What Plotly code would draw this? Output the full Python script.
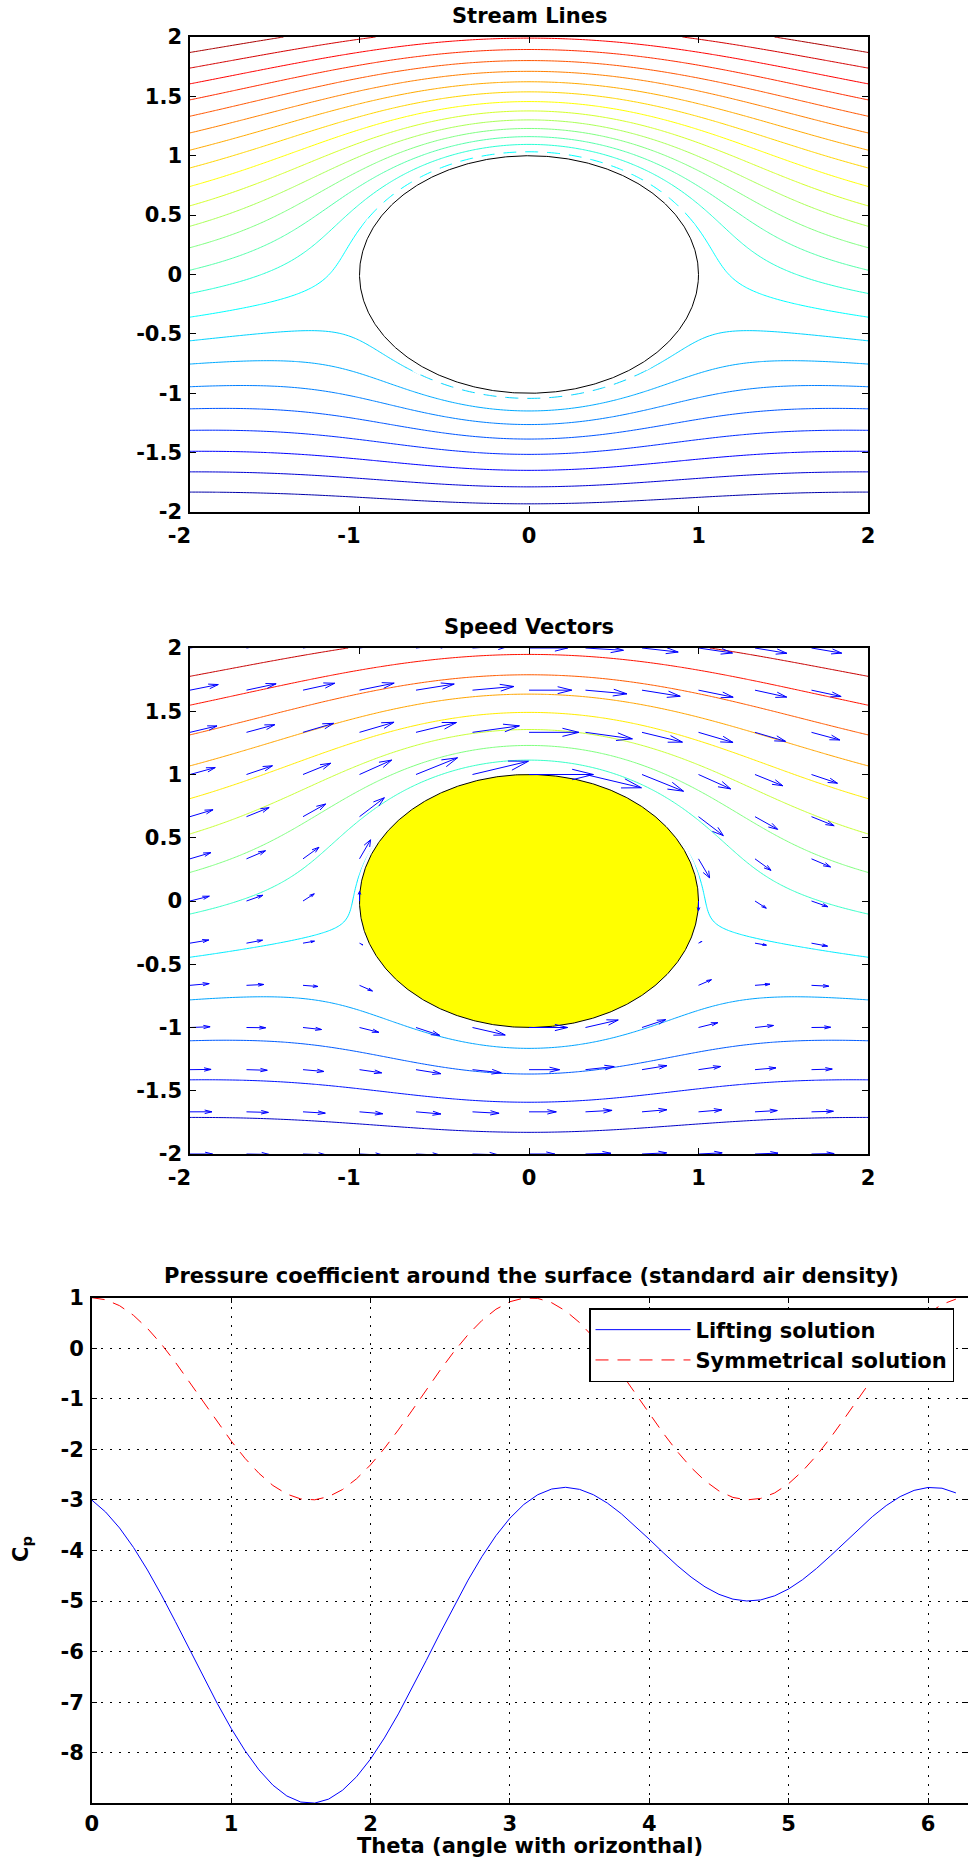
import numpy as np
import plotly.graph_objects as go

# ---------------- data ----------------
theta = [0.0, 0.1, 0.2, 0.3, 0.4, 0.5, 0.6, 0.7, 0.8, 0.9,
         1.0, 1.1, 1.2, 1.3, 1.4, 1.5, 1.6, 1.7, 1.8, 1.9,
         2.0, 2.1, 2.2, 2.3, 2.4, 2.5, 2.6, 2.7, 2.8, 2.9,
         3.0, 3.1, 3.2, 3.3, 3.4, 3.5, 3.6, 3.7, 3.8, 3.9,
         4.0, 4.1, 4.2, 4.3, 4.4, 4.5, 4.6, 4.7, 4.8, 4.9,
         5.0, 5.1, 5.2, 5.3, 5.4, 5.5, 5.6, 5.7, 5.8, 5.9,
         6.0, 6.1, 6.2]

cp_lifting = [-3.000, -3.239, -3.555, -3.940, -4.385, -4.878, -5.404, -5.948, -6.494, -7.021,
              -7.516, -7.959, -8.339, -8.641, -8.855, -8.975, -8.996, -8.917, -8.741, -8.475,
              -8.126, -7.707, -7.232, -6.716, -6.176, -5.630, -5.094, -4.586, -4.119, -3.707,
              -3.362, -3.090, -2.897, -2.784, -2.750, -2.791, -2.898, -3.063, -3.274, -3.517,
              -3.777, -4.042, -4.296, -4.525, -4.719, -4.867, -4.962, -4.999, -4.977, -4.896,
              -4.760, -4.577, -4.355, -4.106, -3.843, -3.580, -3.332, -3.112, -2.934, -2.811,
              -2.754, -2.768, -2.861]

cp_symmetric = [1.000, 0.960, 0.842, 0.651, 0.393, 0.081, -0.275, -0.660, -1.059, -1.454,
                -1.832, -2.177, -2.474, -2.714, -2.884, -2.980, -2.997, -2.934, -2.793, -2.582,
                -2.307, -1.980, -1.615, -1.224, -0.825, -0.433, -0.063, 0.269, 0.551, 0.771,
                0.920, 0.993, 0.986, 0.901, 0.739, 0.508, 0.217, -0.123, -0.498, -0.892,
                -1.291, -1.678, -2.039, -2.358, -2.622, -2.822, -2.950, -2.999, -2.970, -2.861,
                -2.678, -2.428, -2.122, -1.771, -1.389, -0.991, -0.594, -0.213, 0.137, 0.441,
                0.688, 0.867, 0.972]

# potential flow around the cylinder (parameters read from the streamlines)
U_INF = 1.0          # free stream speed
R_CYL = 1.0          # cylinder radius
CIRC = 0.5           # circulation  Gamma / (2 pi U R)

# contour levels (MATLAB auto levels over psi range)
PSI_MIN, PSI_MAX = -1.2301, 2.2699
top_level_start, top_level_step, top_level_count = -1.0843, 0.145833, 23
mid_level_start, mid_level_step, mid_level_count = -0.9801, 0.25, 13

# quiver grid
quiver_pts = [-2.0, -1.6667, -1.3333, -1.0, -0.6667, -0.3333, 0.0,
              0.3333, 0.6667, 1.0, 1.3333, 1.6667, 2.0]

flow_xticks = [-2, -1, 0, 1, 2]
flow_xticktext = ["-2\u2003", "-1\u2003", "0", "1", "2"]
flow_yticks = [-2, -1.5, -1, -0.5, 0, 0.5, 1, 1.5, 2]
flow_yticktext = ["-2", "-1.5", "-1", "-0.5", "0", "0.5", "1", "1.5", "2"]
cp_xticks = [0, 1, 2, 3, 4, 5, 6]
cp_xticktext = ["0", "1", "2", "3", "4", "5", "6"]
cp_yticks = [-8, -7, -6, -5, -4, -3, -2, -1, 0, 1]
cp_yticktext = ["-8", "-7", "-6", "-5", "-4", "-3", "-2", "-1", "0", "1"]

# ---------------- derived field ----------------
gx = np.linspace(-2, 2, 241)
gy = np.linspace(-2, 2, 241)
GX, GY = np.meshgrid(gx, gy)
R2 = np.maximum(GX**2 + GY**2, 0.09)
psi = U_INF * GY * (1 - R_CYL**2 / R2) + CIRC * U_INF * R_CYL * np.log(np.sqrt(R2) / R_CYL)


def jet_rgb(f):
    f = min(max(f, 0.0), 1.0)
    r = min(max(1.5 - abs(4 * f - 3), 0), 1)
    g = min(max(1.5 - abs(4 * f - 2), 0), 1)
    b = min(max(1.5 - abs(4 * f - 1), 0), 1)
    return "rgb(%d,%d,%d)" % (round(r * 255), round(g * 255), round(b * 255))


def level_scale(start, step, count):
    stops = []
    for k in range(count):
        lev = start + k * step
        f = (lev - PSI_MIN) / (PSI_MAX - PSI_MIN)
        stops.append([k / (count - 1), jet_rgb(f)])
    return stops


fig = go.Figure()

FONT = dict(family="DejaVu Sans", size=21, color="black", weight="bold")

phi = np.linspace(0, 2 * np.pi, 721)
cx = R_CYL * np.cos(phi)
cy = R_CYL * np.sin(phi)

# ---- panel 1: stream lines ----
fig.add_trace(go.Contour(
    x=gx, y=gy, z=psi, xaxis="x", yaxis="y",
    contours=dict(start=top_level_start,
                  end=top_level_start + (top_level_count - 1 + 0.01) * top_level_step,
                  size=top_level_step, coloring="lines"),
    colorscale=level_scale(top_level_start, top_level_step, top_level_count),
    showscale=False, line=dict(width=1), hoverinfo="skip", showlegend=False))

# broken contour pieces next to the body (masked grid cells in the original)
GAP_RING = 1.045
fig.add_trace(go.Scatter(x=GAP_RING * cx, y=GAP_RING * cy, xaxis="x", yaxis="y", mode="lines",
                         line=dict(color="white", width=6, dash="9px,13px"),
                         hoverinfo="skip", showlegend=False))
fig.add_trace(go.Scatter(x=cx, y=cy, xaxis="x", yaxis="y", mode="lines",
                         fill="toself", fillcolor="white",
                         line=dict(color="black", width=1),
                         hoverinfo="skip", showlegend=False))

# ---- panel 2: speed vectors ----
fig.add_trace(go.Contour(
    x=gx, y=gy, z=psi, xaxis="x2", yaxis="y2",
    contours=dict(start=mid_level_start,
                  end=mid_level_start + (mid_level_count - 1 + 0.01) * mid_level_step,
                  size=mid_level_step, coloring="lines"),
    colorscale=level_scale(mid_level_start, mid_level_step, mid_level_count),
    showscale=False, line=dict(width=1), hoverinfo="skip", showlegend=False))

RING = 1.02
fig.add_trace(go.Scatter(x=RING * cx, y=RING * cy, xaxis="x2", yaxis="y2", mode="lines",
                         fill="toself", fillcolor="white",
                         line=dict(color="white", width=0),
                         hoverinfo="skip", showlegend=False))
fig.add_trace(go.Scatter(x=cx, y=cy, xaxis="x2", yaxis="y2", mode="lines",
                         fill="toself", fillcolor="rgb(255,255,0)",
                         line=dict(color="black", width=1),
                         hoverinfo="skip", showlegend=False))

QX, QY = np.meshgrid(np.array(quiver_pts), np.array(quiver_pts))
qr2 = QX**2 + QY**2
qu = U_INF * (1 - R_CYL**2 / qr2 + 2 * R_CYL**2 * QY**2 / qr2**2) + CIRC * U_INF * R_CYL * QY / qr2
qv = -(U_INF * 2 * R_CYL**2 * QX * QY / qr2**2 + CIRC * U_INF * R_CYL * QX / qr2)
ARROW_SCALE = 0.152
ALPHA, BETA = 0.33, 0.33
axs, ays = [], []
for xi, yi, ui, vi, ri in zip(QX.ravel(), QY.ravel(), qu.ravel(), qv.ravel(), qr2.ravel()):
    if ri < R_CYL**2 - 1e-3:
        continue
    du, dv = ARROW_SCALE * ui, ARROW_SCALE * vi
    x1, y1 = xi + du, yi + dv
    axs += [xi, x1, None]
    ays += [yi, y1, None]
    axs += [x1 - ALPHA * (du + BETA * dv), x1, x1 - ALPHA * (du - BETA * dv), None]
    ays += [y1 - ALPHA * (dv - BETA * du), y1, y1 - ALPHA * (dv + BETA * du), None]
fig.add_trace(go.Scatter(x=axs, y=ays, xaxis="x2", yaxis="y2", mode="lines",
                         line=dict(color="rgb(0,0,255)", width=1),
                         hoverinfo="skip", showlegend=False))

# ---- panel 3: pressure coefficient ----
fig.add_trace(go.Scatter(x=theta, y=cp_lifting, xaxis="x3", yaxis="y3", mode="lines",
                         name="Lifting solution",
                         line=dict(color="rgb(0,0,255)", width=1)))
fig.add_trace(go.Scatter(x=theta, y=cp_symmetric, xaxis="x3", yaxis="y3", mode="lines",
                         name="Symmetrical solution",
                         line=dict(color="rgb(255,0,0)", width=1, dash="13px,9px")))

W, H = 968, 1858


def px_x(a, b):
    return [a / W, b / W]


def px_y(top, bottom):
    return [1 - bottom / H, 1 - top / H]


axis_common = dict(ticks="inside", ticklen=6, tickwidth=1, tickcolor="black",
                   showline=True, linecolor="black", linewidth=1.5, mirror="ticks",
                   zeroline=False, tickfont=FONT, ticklabelstandoff=4, automargin=False)

flow_x = dict(axis_common, range=[-2, 2], tickvals=flow_xticks, ticktext=flow_xticktext,
              showgrid=False)
flow_y = dict(axis_common, range=[-2, 2], tickvals=flow_yticks, ticktext=flow_yticktext,
              showgrid=False, ticklabelstandoff=2)

grid = dict(showgrid=True, gridcolor="black", gridwidth=1, griddash="2px,7px")

x3 = dict(axis_common, **grid, range=[0, 2 * np.pi], tickvals=cp_xticks,
          ticktext=cp_xticktext, domain=px_x(91.7, 967.5), anchor="y3")
x3["ticklabelstandoff"] = 1
y3 = dict(axis_common, **grid, range=[-9, 1], tickvals=cp_yticks,
          ticktext=cp_yticktext, domain=px_y(1297.7, 1803.3), anchor="x3")
y3["ticklabelstandoff"] = 2

fig.update_layout(
    width=W, height=H, autosize=False,
    margin=dict(l=0, r=0, t=0, b=0, pad=0, autoexpand=False),
    paper_bgcolor="white", plot_bgcolor="white",
    font=FONT,
    xaxis=dict(flow_x, domain=px_x(190, 868), anchor="y"),
    yaxis=dict(flow_y, domain=px_y(37, 512), anchor="x"),
    xaxis2=dict(flow_x, domain=px_x(190, 868), anchor="y2"),
    yaxis2=dict(flow_y, domain=px_y(648, 1154), anchor="x2"),
    xaxis3=x3,
    yaxis3=y3,
    legend=dict(x=589 / W, y=1 - 1308 / H, xanchor="left", yanchor="top",
                bordercolor="black", borderwidth=1.5, bgcolor="white",
                font=FONT, itemwidth=95, tracegroupgap=0),
    showlegend=True,
)

annos = [
    dict(text="Stream Lines", x=529 / W, y=1 - 16 / H),
    dict(text="Speed Vectors", x=529 / W, y=1 - 627 / H),
    dict(text="Pressure coefficient around the surface (standard air density)",
         x=531 / W, y=1 - 1276 / H),
    dict(text="Theta (angle with orizonthal)", x=530 / W, y=1 - 1846 / H),
]
for a in annos:
    fig.add_annotation(xref="paper", yref="paper", xanchor="center", yanchor="middle",
                       showarrow=False, font=FONT, **a)
fig.add_annotation(xref="paper", yref="paper", x=22 / W, y=1 - 1549 / H,
                   xanchor="center", yanchor="middle", showarrow=False,
                   text="C<sub>p</sub>", textangle=-90, font=FONT)

fig.write_html("out.html")
